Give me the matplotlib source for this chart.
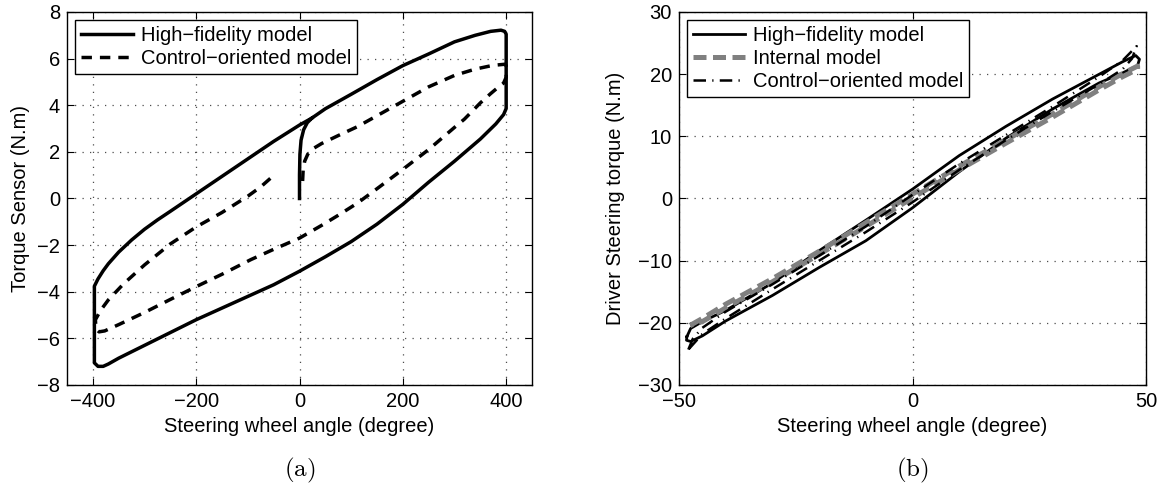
import matplotlib
matplotlib.use("Agg")
import matplotlib.pyplot as plt

# ---------------- Panel (a) data ----------------
hf_a_x = [0, 0, 0.8, 3, 8, 15, 24, 50, 100, 150, 200, 250, 300, 340, 370, 390, 397, 400,
          400, 395, 380, 350, 300, 250, 200, 150, 100, 50, 0, -50, -100, -150, -200, -250,
          -300, -350, -370, -380, -390, -397, -397, -390, -380, -370, -350, -325, -300, -275,
          -250, -200, -150, -100, -50, 0, 24]
hf_a_y = [0, 1.0, 1.9, 2.5, 2.95, 3.25, 3.45, 3.85, 4.47, 5.1, 5.7, 6.2, 6.72, 7.0, 7.17,
          7.22, 7.17, 7.05, 3.86, 3.6, 3.2, 2.55, 1.6, 0.7, -0.25, -1.1, -1.85, -2.5, -3.12,
          -3.7, -4.2, -4.7, -5.2, -5.75, -6.3, -6.85, -7.1, -7.2, -7.2, -7.05, -3.76, -3.45,
          -3.1, -2.8, -2.3, -1.78, -1.32, -0.92, -0.55, 0.2, 0.95, 1.7, 2.45, 3.15, 3.45]

co_a_x = [6, 7, 10, 16, 25, 43, 75, 112, 150, 200, 250, 300, 340, 374, 398, 400, 400, 395,
          385, 370, 350, 319, 300, 250, 200, 150, 112, 75, 43, 0, -50, -94, -150, -198, -250,
          -301, -349, -377, -388, -394, -395, -385, -370, -340, -300, -250, -200, -150, -100,
          -75, -53]
co_a_y = [0.75, 1.2, 1.6, 1.9, 2.12, 2.36, 2.7, 3.08, 3.55, 4.17, 4.79, 5.28, 5.55, 5.71,
          5.76, 5.7, 5.2, 4.95, 4.78, 4.5, 4.1, 3.4, 3.05, 2.1, 1.25, 0.42, -0.2, -0.72, -1.15,
          -1.7, -2.18, -2.62, -3.25, -3.76, -4.33, -4.9, -5.4, -5.68, -5.72, -5.6, -5.2, -4.8,
          -4.35, -3.65, -2.85, -1.95, -1.22, -0.6, 0.1, 0.5, 0.93]

# ---------------- Panel (b) data ----------------
hf_b_x = [-48.3, -47.5, -45, -40, -30, -20, -10, 0, 10, 20, 30, 40, 45, 47.8, 48.6, 48.2,
          45, 40, 30, 20, 10, 0, -10, -20, -30, -40, -45, -47.5, -48.4, -48.3]
hf_b_y = [-22.2, -20.9, -19.8, -18.0, -13.6, -8.4, -3.5, 1.5, 6.9, 11.6, 16.0, 20.0, 22.0,
          23.0, 22.4, 21.4, 20.2, 18.6, 14.4, 9.7, 4.3, -1.5, -6.8, -11.1, -15.6, -19.7,
          -22.1, -23.0, -22.8, -22.2]

im_b_x = [-47.6, -45, -40, -30, -20, -10, 0, 10, 20, 30, 40, 45, 48.2, 48.2, 45, 40, 30, 20,
          10, 0, -10, -20, -30, -40, -45, -47.6]
im_b_y = [-20.4, -19.3, -17.0, -12.9, -8.5, -3.9, 0.7, 5.2, 9.4, 13.6, 18.0, 20.1, 21.3,
          20.8, 19.6, 17.5, 13.1, 8.9, 4.6, 0.1, -4.5, -9.0, -13.4, -17.6, -19.8, -20.4]

co_b_x = [-48, -47, -45, -40, -30, -20, -10, 0, 10, 20, 30, 40, 45, 48, 47, 45, 40, 30, 20,
          10, 0, -10, -20, -30, -40, -45, -48]
co_b_y = [-24.3, -22.5, -20.8, -18.2, -13.8, -9.2, -4.5, 0.6, 5.6, 10.2, 14.8, 19.6, 22.2,
          24.5, 22.5, 20.8, 18.4, 14.0, 9.4, 4.6, -0.6, -5.4, -10.0, -14.6, -19.3, -21.8,
          -24.3]

a_xticks = [-400, -200, 0, 200, 400]
a_yticks = [-8, -6, -4, -2, 0, 2, 4, 6, 8]
b_xticks = [-50, 0, 50]
b_yticks = [-30, -20, -10, 0, 10, 20, 30]

labels_a = ["High\u2212fidelity model", "Control\u2212oriented model"]
labels_b = ["High\u2212fidelity model", "Internal model", "Control\u2212oriented model"]

plt.rcParams["font.family"] = ["Liberation Sans", "DejaVu Sans"]
plt.rcParams["mathtext.fontset"] = "cm"
FS = 14.5

fig = plt.figure(figsize=(11.58, 4.84), dpi=100)
W, H = 1158, 484
axa = fig.add_axes([67 / W, 1 - 385 / H, 465 / W, 373 / H])
axb = fig.add_axes([679 / W, 1 - 385 / H, 467 / W, 373 / H])


def style(ax):
    ax.grid(True, color="0.3", linestyle=(0, (1, 5)), linewidth=0.9)
    ax.set_axisbelow(True)
    ax.tick_params(direction="in", top=True, right=True, length=5, width=0.8,
                   labelsize=FS, pad=5)
    for s in ax.spines.values():
        s.set_linewidth(1.0)


# Panel (a)
axa.plot(hf_a_x, hf_a_y, color="black", lw=2.5, label=labels_a[0], solid_joinstyle="round")
axa.plot(co_a_x, co_a_y, color="black", lw=2.5, dashes=(3.0, 2.3), label=labels_a[1])
axa.set_xlim(-450, 450)
axa.set_ylim(-8, 8)
axa.set_xticks(a_xticks)
axa.set_yticks(a_yticks)
style(axa)
axa.set_xlabel("Steering wheel angle (degree)", fontsize=FS)
axa.set_ylabel("Torque Sensor (N.m)", fontsize=FS)
axa.xaxis.set_label_coords(0.5, -0.085)
axa.yaxis.set_label_coords(-0.08, 0.5)
lega = axa.legend(loc="upper left", fontsize=FS, frameon=True, fancybox=False,
                  edgecolor="black", framealpha=1, handlelength=2.6, handletextpad=0.35,
                  labelspacing=0.2, borderpad=0.3, borderaxespad=0.4)
lega.get_frame().set_linewidth(1.0)

# Panel (b)
axb.plot(hf_b_x, hf_b_y, color="black", lw=2.0, label=labels_b[0], solid_joinstyle="round")
axb.plot(im_b_x, im_b_y, color="0.5", lw=3.6, dashes=(2.6, 1.3), label=labels_b[1])
axb.plot(co_b_x, co_b_y, color="black", lw=1.8, dashes=(5, 2.5, 0.5, 2.5), label=labels_b[2])
axb.set_xlim(-50, 50)
axb.set_ylim(-30, 30)
axb.set_xticks(b_xticks)
axb.set_yticks(b_yticks)
style(axb)
axb.set_xlabel("Steering wheel angle (degree)", fontsize=FS)
axb.set_ylabel("Driver Steering torque (N.m)", fontsize=FS)
axb.xaxis.set_label_coords(0.5, -0.085)
axb.yaxis.set_label_coords(-0.115, 0.5)
legb = axb.legend(loc="upper left", fontsize=FS, frameon=True, fancybox=False,
                  edgecolor="black", framealpha=1, handlelength=2.6, handletextpad=0.35,
                  labelspacing=0.2, borderpad=0.3, borderaxespad=0.4)
legb.get_frame().set_linewidth(1.0)

fig.text(300 / W, 1 - 470 / H, r"$\mathrm{(a)}$", ha="center", va="center", fontsize=18)
fig.text(912 / W, 1 - 470 / H, r"$\mathrm{(b)}$", ha="center", va="center", fontsize=18)

fig.savefig("out.png", dpi=100)
